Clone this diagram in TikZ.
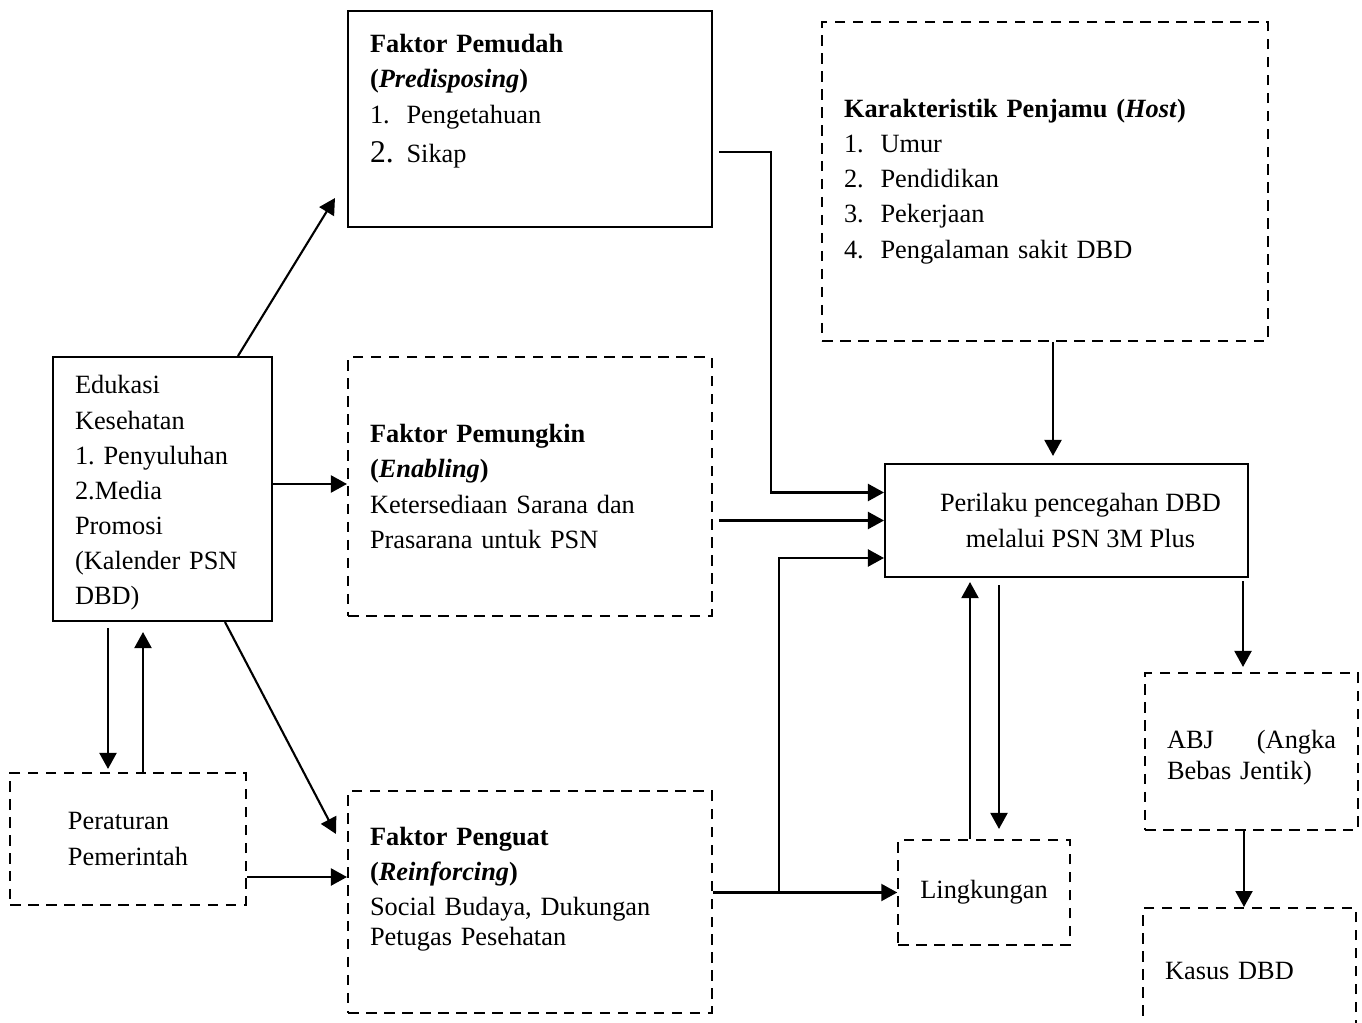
\documentclass[tikz,border=0pt]{standalone}
\usepackage{fontspec}
\setmainfont{Liberation Serif}
\usepackage{tikz}
\usetikzlibrary{arrows.meta,calc}
\frenchspacing
\newcommand{\numitem}[2]{\makebox[0.73cm][l]{#1}#2}
\tikzset{
  solidbox/.style={draw, line width=1.2pt, inner xsep=0.44cm, inner ysep=0pt, align=left, font=\fontsize{15}{20}\selectfont},
  dashbox/.style={solidbox, dash pattern=on 0.21cm off 0.15cm},
  line/.style={draw, line width=1.2pt, ->}
}

\begin{document}
\begin{tikzpicture}[x=0.02cm,y=-0.02cm,>={Triangle[length=0.32cm,width=0.34cm]},line cap=butt,line join=miter]
\useasboundingbox (0,0) rectangle (1362,1023);
\clip (0,0) rectangle (1362,1023);

\node[solidbox, minimum width=7.28cm, minimum height=4.32cm, text width=6.4cm] (pemudah) at (530,119)
  {\textbf{Faktor Pemudah}\\ \textbf{(\textit{Predisposing})}\\ \numitem{1.}{Pengetahuan}\\[0.08cm] \numitem{{\fontsize{18}{20}\selectfont 2.}}{Sikap}\\[0.12cm]\mbox{}};
\node[dashbox, minimum width=8.92cm, minimum height=6.38cm, text width=8.04cm] (host) at (1045,181.5)
  {\textbf{Karakteristik Penjamu (\textit{Host})}\\ \numitem{1.}{Umur}\\ \numitem{2.}{Pendidikan}\\ \numitem{3.}{Pekerjaan}\\ \numitem{4.}{Pengalaman sakit DBD}};
\node[solidbox, minimum width=4.38cm, minimum height=5.28cm, text width=3.5cm] (edukasi) at (162.5,489)
  {\rule{0pt}{15pt}Edukasi\\ Kesehatan\\ 1. Penyuluhan\\ 2.Media\\ Promosi\\ (Kalender PSN\\ DBD)};
\node[dashbox, minimum width=7.28cm, minimum height=5.18cm, text width=6.4cm] (pemungkin) at (530,486.5)
  {\textbf{Faktor Pemungkin}\\ \textbf{(\textit{Enabling})}\\ Ketersediaan Sarana dan\\ Prasarana untuk PSN};
\node[solidbox, minimum width=7.26cm, minimum height=2.26cm, align=center] (perilaku) at (1066.5,520.5)
  {\hspace*{0.56cm}Perilaku pencegahan DBD\\ \hspace*{0.56cm}melalui PSN 3M Plus};
\node[dashbox, minimum width=4.72cm, minimum height=2.64cm] (peraturan) at (128,839)
  {Peraturan\\ Pemerintah};
\node[dashbox, minimum width=7.28cm, minimum height=4.44cm, text width=6.4cm] (penguat) at (530,902)
  {\textbf{Faktor Penguat}\\ \textbf{(\textit{Reinforcing})}\\ Social Budaya, Dukungan\\[-0.1cm] Petugas Pesehatan\\[-0.08cm]\mbox{}};
\node[dashbox, minimum width=3.4cm, minimum height=2.1cm, align=center] (lingkungan) at (984,892.5)
  {Lingkungan};
\node[dashbox, minimum width=4.26cm, minimum height=3.14cm, text width=3.38cm] (abj) at (1251.5,751.5)
  {\rule{0pt}{0.61cm}ABJ\hfill(Angka\\[-0.1cm] Bebas Jentik)};
\node[dashbox, anchor=north, minimum width=4.26cm, minimum height=2.5cm, text width=3.38cm] (kasus) at (1249.5,907)
  {Kasus DBD};

\coordinate (dn) at ($(edukasi.south)+(-54.5,0)$);
\coordinate (up) at ($(edukasi.south)+(-19.5,0)$);
\coordinate (pr) at ($(peraturan.east)+(0,38)$);
\coordinate (jn) at ($(penguat.east |- lingkungan.west)+(66,0)$);
\coordinate (hs) at ($(host.south)+(8,0)$);
\coordinate (lu) at ($(lingkungan.north)+(-14,0)$);
\coordinate (ld) at ($(lingkungan.north)+(15,0)$);
\coordinate (ai) at ($(abj.north)+(-8.5,0)$);
\coordinate (ao) at ($(abj.south)+(-7.5,0)$);

\draw[line] ($(edukasi.north)+(75.5,0)$) -- ($(pemudah.south west)+(-12,-30)$);
\draw[line] ($(edukasi.east)+(0,-5)$) -- ($(pemungkin.west)+(0,-2.5)$);
\draw[line] ($(edukasi.south)+(62.5,0)$) -- ($(penguat.north west)+(-11,44)$);
\draw[line, shorten <=0.12cm, shorten >=0.06cm] (dn) -- (dn |- peraturan.north);
\draw[line, shorten >=0.2cm] (up |- peraturan.north) -- (up);
\draw[line] (pr) -- (pr -| penguat.west);
\draw[line] ($(pemudah.east)+(6,33)$) -- ++(52,0) |- ($(perilaku.west)+(0,-28)$);
\draw[line] ($(pemungkin.east |- perilaku.west)+(6,0)$) -- (perilaku.west);
\draw[line] (penguat.east |- lingkungan.west) -- (lingkungan.west);
\draw[line] (jn) |- ($(perilaku.west)+(0,37.5)$);
\draw[line, shorten >=0.14cm] (hs) -- (hs |- perilaku.north);
\draw[line, shorten >=0.08cm] (lu) -- (lu |- perilaku.south);
\draw[line, shorten <=0.14cm, shorten >=0.2cm] (ld |- perilaku.south) -- (ld);
\draw[line, shorten <=0.06cm, shorten >=0.1cm] (ai |- perilaku.south) -- (ai);
\draw[line] (ao) -- (ao |- kasus.north);
\end{tikzpicture}
\end{document}
